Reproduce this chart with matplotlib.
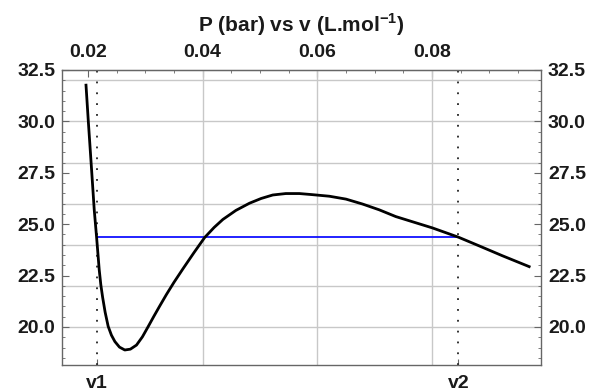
import matplotlib
matplotlib.use("Agg")
import matplotlib.pyplot as plt
from matplotlib.ticker import MultipleLocator, FixedLocator

# Curve points (v in L/mol, P in bar)
v_vals = [0.01965, 0.02005, 0.02064, 0.02110, 0.02151, 0.02197, 0.02225, 0.02256,
          0.02300, 0.02353, 0.02410, 0.02470, 0.02550, 0.02643, 0.02740, 0.02847,
          0.02950, 0.03049, 0.03150, 0.03252, 0.03369, 0.03500, 0.03657, 0.03850,
          0.04035, 0.04200, 0.04353, 0.04580, 0.04817, 0.05020, 0.05223, 0.05450,
          0.05687, 0.05900, 0.06209, 0.06499, 0.06788, 0.07078, 0.07368, 0.07657,
          0.08005, 0.08458, 0.08817, 0.09222, 0.09716]
p_vals = [31.83, 30.08, 27.64, 25.70, 24.37, 22.78, 22.05, 21.45,
          20.72, 20.03, 19.60, 19.29, 19.02, 18.88, 18.92, 19.12,
          19.52, 20.01, 20.52, 21.02, 21.58, 22.17, 22.83, 23.62,
          24.35, 24.84, 25.23, 25.67, 26.02, 26.25, 26.42, 26.49,
          26.49, 26.44, 26.36, 26.22, 25.98, 25.70, 25.37, 25.12,
          24.82, 24.37, 23.95, 23.47, 22.91]

v1 = 0.02151
v2 = 0.08458
p_sat = 24.37

x_ticks = [0.02, 0.04, 0.06, 0.08]
x_tick_labels = ["0.02", "0.04", "0.06", "0.08"]
y_ticks = [20.0, 22.5, 25.0, 27.5, 30.0, 32.5]
y_tick_labels = ["20.0", "22.5", "25.0", "27.5", "30.0", "32.5"]
x_grid = [0.04, 0.06, 0.08]
y_grid = [20, 22, 24, 26, 28, 30, 32]
bottom_labels = ["v1", "v2"]

plt.rcParams['font.family'] = ['Liberation Sans', 'DejaVu Sans']
plt.rcParams['font.weight'] = 'bold'
plt.rcParams['mathtext.fontset'] = 'custom'
plt.rcParams['mathtext.bf'] = 'Liberation Sans:bold'
plt.rcParams['mathtext.rm'] = 'Liberation Sans:bold'

fig = plt.figure(figsize=(5.9, 3.91), dpi=100)
ax = fig.add_axes([62/590, 1-365/391, (541-62)/590, (365-70)/391])

xmin, xmax = 0.01548, 0.0990
ymin, ymax = 18.15, 32.5
ax.set_xlim(xmin, xmax)
ax.set_ylim(ymin, ymax)

gridc = '#c8c8c8'
for gx in x_grid:
    ax.axvline(gx, color=gridc, lw=1.0, zorder=1)
for gy in y_grid:
    ax.axhline(gy, color=gridc, lw=1.0, zorder=1)

for vv in (v1, v2):
    ax.axvline(vv, color='#222222', lw=1.3, linestyle=(0, (1, 5)), zorder=2)

ax.plot([v1, v2], [p_sat, p_sat], color='#1010ff', lw=1.3, zorder=3)
ax.plot(v_vals, p_vals, color='black', lw=2.0, zorder=4, solid_capstyle='butt',
        solid_joinstyle='round')

spc = '#666666'
for s in ax.spines.values():
    s.set_color(spc)
    s.set_linewidth(1.0)

tc = '#1a1a1a'
fs = 14
# bottom axis: v1, v2
ax.xaxis.set_major_locator(FixedLocator([v1, v2]))
ax.set_xticklabels(bottom_labels, fontsize=fs, fontweight='bold', color=tc)
ax.tick_params(axis='x', which='major', direction='in', length=4, color=spc, pad=7)

# y axis both sides
ax.set_yticks(y_ticks)
ax.set_yticklabels(y_tick_labels, fontsize=fs, fontweight='bold', color=tc)
ax.yaxis.set_minor_locator(MultipleLocator(0.5))
ax.tick_params(axis='y', which='both', direction='in', left=True, right=True,
               labelleft=True, labelright=True, color=spc)
ax.tick_params(axis='y', which='major', length=5, pad=5)
ax.tick_params(axis='y', which='minor', length=2.5)

# top axis
top = ax.secondary_xaxis('top')
top.set_xticks(x_ticks)
top.set_xticklabels(x_tick_labels, fontsize=fs, fontweight='bold', color=tc)
top.xaxis.set_minor_locator(MultipleLocator(0.005))
top.tick_params(axis='x', which='major', direction='in', length=5, color=spc, pad=6.5)
top.tick_params(axis='x', which='minor', direction='in', length=2.5, color=spc)
top.spines['top'].set_color(spc)

fig.text((62+541)/2/590, 1-25/391, r"P (bar) vs v (L.mol$^{\mathbf{-1}}$)",
         ha='center', va='center', fontsize=15, fontweight='bold', color=tc)

fig.savefig('out.png', dpi=100)
